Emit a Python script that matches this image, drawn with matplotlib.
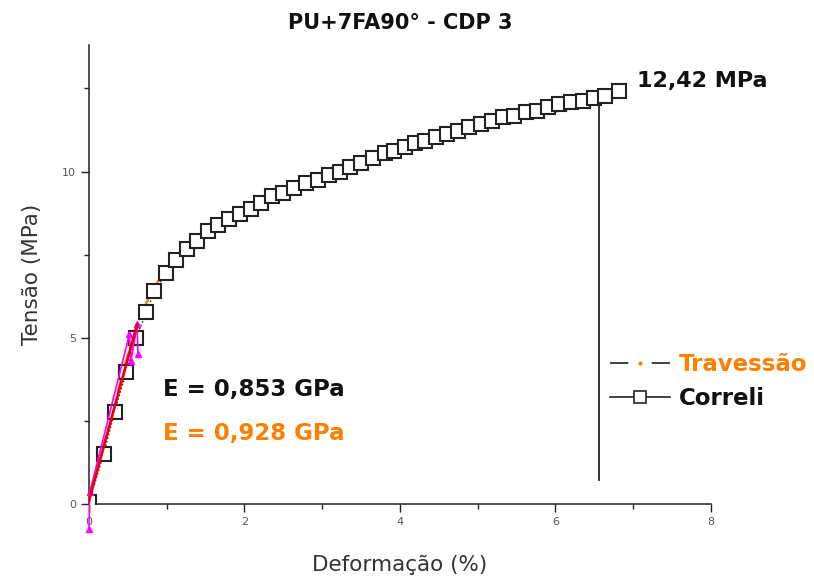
import matplotlib
matplotlib.use("Agg")
import matplotlib.pyplot as plt
from matplotlib.lines import Line2D

plt.rcParams.update({"font.family": ["DejaVu Sans"], "font.size": 10})

ORANGE, RED, MAGENTA = "#ff8000", "#e8000b", "#ff00ff"

# Correli (DIC) curve
corr_x = [0.00, 0.19, 0.33, 0.48, 0.60, 0.74, 0.84, 0.99, 1.12, 1.26, 1.39, 1.53, 1.66,
          1.80, 1.94, 2.08, 2.21, 2.35, 2.50, 2.64, 2.79, 2.94, 3.09, 3.23, 3.36, 3.50,
          3.66, 3.81, 3.93, 4.06, 4.19, 4.32, 4.46, 4.61, 4.75, 4.89, 5.04, 5.18, 5.32,
          5.47, 5.62, 5.76, 5.91, 6.05, 6.20, 6.35, 6.50, 6.64, 6.82]
corr_y = [0.05, 1.51, 2.77, 3.98, 4.98, 5.76, 6.40, 6.94, 7.33, 7.66, 7.91, 8.20, 8.38,
          8.58, 8.73, 8.88, 9.05, 9.25, 9.36, 9.51, 9.66, 9.76, 9.90, 10.00, 10.15, 10.26,
          10.40, 10.55, 10.63, 10.73, 10.85, 10.93, 11.03, 11.13, 11.23, 11.33, 11.43, 11.53, 11.63,
          11.68, 11.78, 11.83, 11.93, 12.03, 12.08, 12.13, 12.21, 12.28, 12.42]

# Travessao (crosshead) curve, ends with the rupture drop
trav_x = [0.00, 0.10, 0.20, 0.30, 0.40, 0.50, 0.60, 0.70, 0.80, 0.90, 1.00, 1.50, 2.00,
          3.00, 4.00, 5.00, 6.00, 6.56]
trav_y = [0.00, 0.93, 1.86, 2.78, 3.65, 4.50, 5.25, 5.85, 6.35, 6.75, 7.00, 8.10, 8.80,
          9.85, 10.65, 11.30, 11.80, 12.05]
drop_x = [6.56, 6.56]
drop_y = [12.05, 0.72]

# linear fit for the modulus and the fit-range markers
fit_x = [0.00, 0.62]
fit_y = [0.10, 5.40]
mag_x = [0.00, 0.01, 0.52, 0.54, 0.62, 0.63]
mag_y = [-0.75, 0.35, 5.10, 4.30, 5.40, 4.50]

fig = plt.figure(figsize=(8.14, 5.83), dpi=100)
ax = fig.add_axes([0.1093, 0.1355, 0.764, 0.787])
ax.set_xlim(0, 8)
ax.set_ylim(0, 13.8)

ax.plot(trav_x, trav_y, color=ORANGE, lw=1.6, ls=(0, (6, 3, 1, 3)), zorder=2)
ax.plot(drop_x, drop_y, color="#222222", lw=1.3, zorder=2)
ax.plot(corr_x, corr_y, color="#222222", lw=1.0, ls=":", marker="s", ms=10,
        mfc="white", mec="#222222", mew=1.5, zorder=3)
ax.plot(mag_x, mag_y, color=MAGENTA, lw=1.2, marker="^", ms=5, zorder=4, clip_on=False)
ax.plot(fit_x, fit_y, color=RED, lw=2.0, zorder=5)

for s in ["top", "right"]:
    ax.spines[s].set_visible(False)
for s in ["left", "bottom"]:
    ax.spines[s].set_linewidth(1.1)
    ax.spines[s].set_color("#222222")

ax.set_xticks([0, 2, 4, 6, 8])
ax.set_xticks([1, 3, 5, 7], minor=True)
ax.set_yticks([0, 5, 10])
ax.set_yticks([2.5, 7.5, 12.5], minor=True)
ax.tick_params(which="major", length=6, width=1.0, color="#222222",
               labelsize=8, labelcolor="#555555")
ax.tick_params(which="minor", length=3.5, width=1.0, color="#222222")

ax.set_xlabel("Deformação (%)", fontsize=15.5, color="#333333", labelpad=20)
ax.set_ylabel("Tensão (MPa)", fontsize=15.5, color="#333333", labelpad=14)
ax.set_title("PU+7FA90° - CDP 3", fontsize=15, fontweight="bold",
             family=["Liberation Sans Narrow", "DejaVu Sans"], color="#111111", pad=12)

ax.text(7.05, 12.72, "12,42 MPa", fontsize=16, fontweight="bold", color="#111111",
        va="center", ha="left", clip_on=False)
ax.text(0.95, 3.45, "E = 0,853 GPa", fontsize=16.5, fontweight="bold", color="#111111",
        va="center", ha="left")
ax.text(0.95, 2.12, "E = 0,928 GPa", fontsize=16.5, fontweight="bold", color=ORANGE,
        va="center", ha="left")

h_trav = (Line2D([], [], color="#222222", lw=1.2, ls=(0, (11, 14))),
          Line2D([], [], color=ORANGE, lw=0, marker=".", ms=4))
h_corr = Line2D([], [], color="#222222", lw=1.2, marker="s", ms=8, mfc="white", mew=1.2)
leg = ax.legend([h_trav, h_corr], ["Travessão", "Correli"], loc="upper left",
                bbox_to_anchor=(0.838, 0.33), frameon=False, fontsize=16.5,
                handlelength=2.6, handletextpad=0.4, labelspacing=0.5,
                borderaxespad=0.0, borderpad=0.0)
for t, c in zip(leg.get_texts(), [ORANGE, "#111111"]):
    t.set_color(c)
    t.set_fontweight("bold")

fig.savefig("out.png", dpi=100)
